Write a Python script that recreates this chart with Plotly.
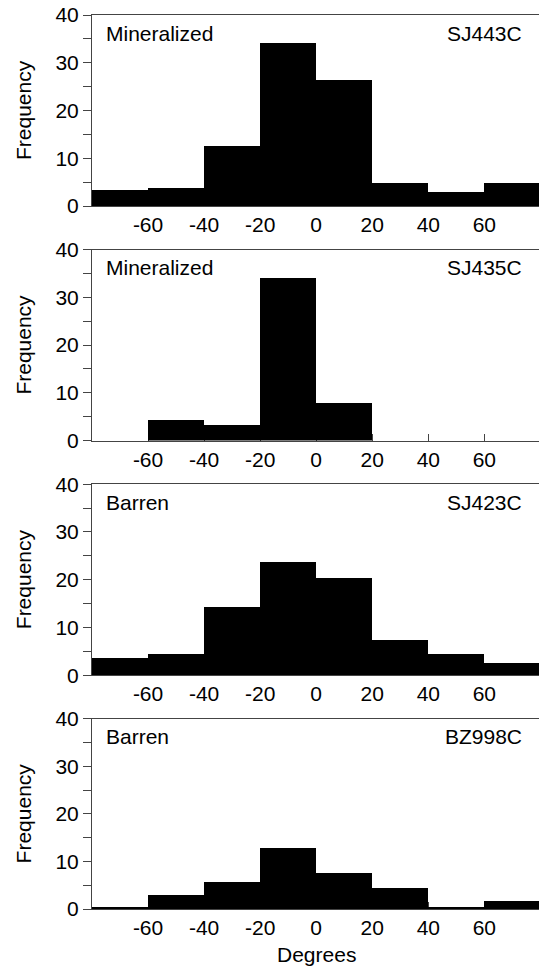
import plotly.graph_objects as go

# Bin centres (degrees) for the 20-degree class intervals
bin_centers = [-70, -50, -30, -10, 10, 30, 50, 70]
bin_width = 20

# Frequencies per class for each drill core
sj443c = [3.3, 3.7, 12.6, 34.2, 26.4, 4.8, 2.9, 4.8]
sj435c = [0, 4.4, 3.3, 34.1, 7.9, 0, 0, 0]
sj423c = [3.6, 4.35, 14.2, 23.6, 20.3, 7.3, 4.35, 2.5]
bz998c = [0.55, 2.9, 5.75, 12.9, 7.65, 4.55, 0.55, 1.7]

series = [sj443c, sj435c, sj423c, bz998c]
sample_ids = ["SJ443C", "SJ435C", "SJ423C", "BZ998C"]
groups = ["Mineralized", "Mineralized", "Barren", "Barren"]

x_ticks = [-60, -40, -20, 0, 20, 40, 60]
y_ticks = [0, 10, 20, 30, 40]

FONT = "Liberation Sans, Arial, Helvetica, sans-serif"
FS = 21
AXIS_COL = "#444444"

W, H = 539, 970
M_L, M_R, M_T, M_B = 92, 0, 15, 61
plot_h = H - M_T - M_B

# Panel extents in pixels from top of page
panel_h = 191.0
panel_step = 234.6

fig = go.Figure()

for i, (vals, sid, grp) in enumerate(zip(series, sample_ids, groups)):
    n = i + 1
    xa = "x" if n == 1 else f"x{n}"
    ya = "y" if n == 1 else f"y{n}"
    top_px = M_T + i * panel_step
    bot_px = top_px + panel_h
    d0 = max(0.0, (H - M_B - bot_px) / plot_h)
    d1 = min(1.0, (H - M_B - top_px) / plot_h)

    fig.add_trace(go.Bar(
        x=bin_centers, y=vals, width=[bin_width] * len(bin_centers),
        marker=dict(color="black", line=dict(width=0)),
        xaxis=xa, yaxis=ya, showlegend=False, hoverinfo="x+y",
    ))

    xkey = "xaxis" if n == 1 else f"xaxis{n}"
    ykey = "yaxis" if n == 1 else f"yaxis{n}"
    fig.layout[xkey] = dict(
        domain=[0, 1], anchor=ya, range=[-80, 79.5],
        tickvals=x_ticks, ticktext=[str(v) for v in x_ticks],
        ticks="inside", ticklen=7, tickcolor=AXIS_COL, tickwidth=1,
        showline=True, linecolor=AXIS_COL, linewidth=1, mirror=True,
        showgrid=False, zeroline=False, layer="below traces",
        tickfont=dict(family=FONT, size=FS, color="black"),
    )
    fig.layout[ykey] = dict(
        domain=[d0, d1], anchor=xa, range=[0, 40],
        tickvals=y_ticks, ticks="outside", ticklen=8,
        tickcolor=AXIS_COL, tickwidth=1,
        minor=dict(dtick=5, tick0=0, ticks="outside", ticklen=8,
                   tickcolor=AXIS_COL, tickwidth=1, showgrid=False),
        showline=True, linecolor=AXIS_COL, linewidth=1,
        showgrid=False, zeroline=False, layer="below traces",
        tickfont=dict(family=FONT, size=FS, color="black"),
    )

    # Panel labels: group (left) and sample id (right)
    fig.add_annotation(
        xref=f"{xa} domain", yref=f"{ya} domain", x=0, y=1,
        xanchor="left", yanchor="middle", xshift=12, yshift=-18,
        text=grp, showarrow=False, font=dict(family=FONT, size=FS, color="black"),
    )
    fig.add_annotation(
        xref=f"{xa} domain", yref=f"{ya} domain", x=1, y=1,
        xanchor="right", yanchor="middle", xshift=-15, yshift=-18,
        text=sid, showarrow=False, font=dict(family=FONT, size=FS, color="black"),
    )
    # Y-axis title
    fig.add_annotation(
        xref="paper", yref=f"{ya} domain", x=(23.5 - M_L) / (W - M_L - M_R), y=0.5,
        xanchor="center", yanchor="middle", textangle=-90,
        text="Frequency", showarrow=False, font=dict(family=FONT, size=FS, color="black"),
    )

# X-axis title under the bottom panel
fig.add_annotation(
    xref="x4", yref="paper", x=0, y=(H - M_B - 954) / plot_h,
    xanchor="center", yanchor="middle",
    text="Degrees", showarrow=False, font=dict(family=FONT, size=FS, color="black"),
)

fig.update_layout(
    width=W, height=H,
    margin=dict(l=M_L, r=M_R, t=M_T, b=M_B),
    paper_bgcolor="white", plot_bgcolor="white",
    bargap=0,
    font=dict(family=FONT, size=FS, color="black"),
)

fig.write_html("out.html")
